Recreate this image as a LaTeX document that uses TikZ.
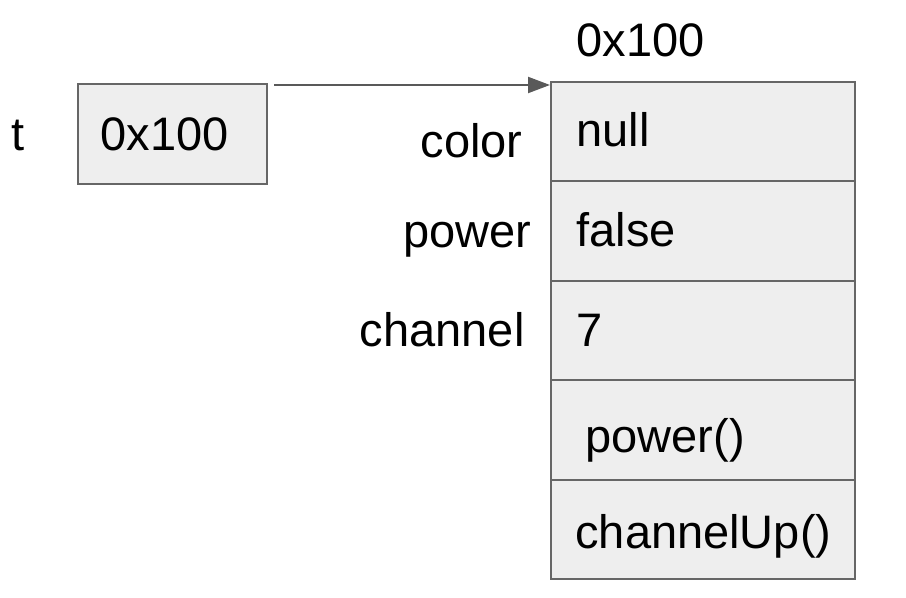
\documentclass[tikz,border=0pt]{standalone}
\usepackage{fontspec}
\setmainfont{Liberation Sans}
\usetikzlibrary{arrows.meta}
\definecolor{cellfill}{HTML}{EEEEEE}
\definecolor{cellline}{HTML}{666666}
\definecolor{ptrline}{HTML}{595959}

\begin{document}
\begin{tikzpicture}[x=0.5pt,y=-0.5pt]

        \tikzset{
            txt/.style={font=\fontsize{23.5}{28}\selectfont, inner sep=0pt},
            cell/.style={draw=cellline, fill=cellfill, line width=1pt,
                minimum width=152pt, minimum height=49.75pt, inner sep=0pt},
            ptr/.style={-{Triangle[length=11pt,width=8pt]}, line width=1.1pt, ptrline}
        }

        \useasboundingbox (0,0) rectangle (906,598);

        % variable t
        \node[cell, minimum width=94.5pt, minimum height=50pt] (lbox) at (172.5,134) {};
        \node[txt, anchor=base west] (tname) at (11,151) {t};
        \node[txt, anchor=base west] (tval) at (100,151) {0x100};

        % object at 0x100
        \node[cell] (r1) at (703,131.75) {};
        \node[cell] (r2) at (703,231.25) {};
        \node[cell] (r3) at (703,330.75) {};
        \node[cell] (r4) at (703,430.25) {};
        \node[cell] (r5) at (703,529.75) {};

        \node[txt, anchor=base west] (addr) at (576,57) {0x100};

        \node[txt, anchor=base west] (v1) at (576,147) {null};
        \node[txt, anchor=base west] (v2) at (576,247) {false};
        \node[txt, anchor=base west] (v3) at (576,347) {7};
        \node[txt, anchor=base west] (v4) at (585,453) {power()};
        \node[txt, anchor=base west] (v5) at (575,549) {channelUp()};

        \node[txt, anchor=base east] (f1) at (523,158) {color};
        \node[txt, anchor=base east] (f2) at (532,248) {power};
        \node[txt, anchor=base east] (f3) at (525,347) {channel};

        \draw[ptr] ([xshift=3pt,yshift=-1pt]lbox.north east)
            -- ([yshift=-2pt]r1.north west);

    \end{tikzpicture}
\end{document}
